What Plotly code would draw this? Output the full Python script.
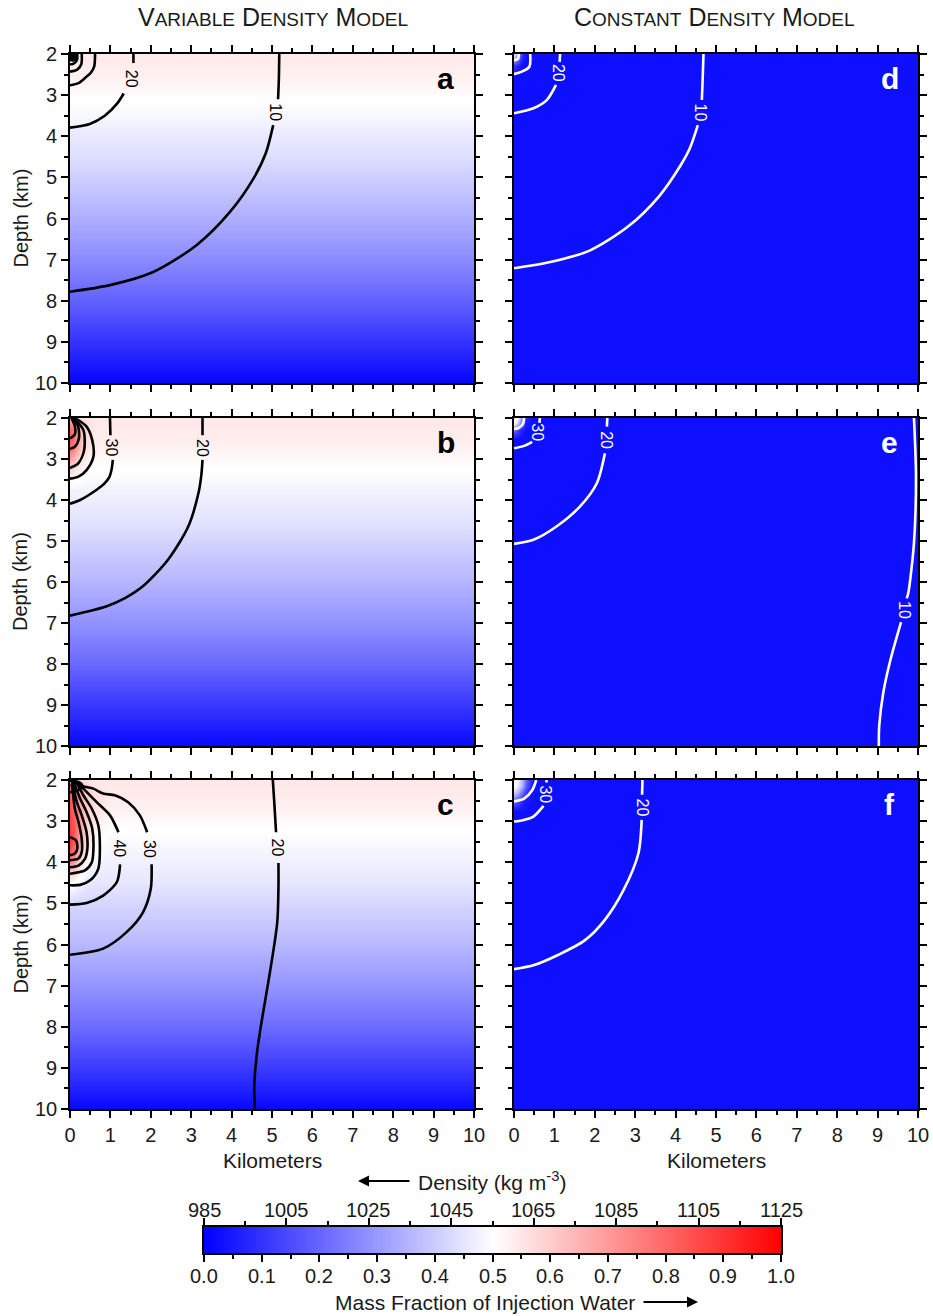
import plotly.graph_objects as go

# ---------------- data ----------------
GRID_X = [0, 0.1, 0.2, 0.3, 0.45, 0.6, 0.8, 1.0, 10]
GRID_D = [2.0, 2.15, 2.3, 2.5, 2.75, 3.0, 3.25, 3.5, 3.75, 4.0, 4.25, 4.5, 5, 6, 7, 8, 9, 10]

# background mass fraction (vertical profile, per GRID_D)
PROFILE_A = [0.54, 0.54, 0.535, 0.53, 0.52, 0.505, 0.495, 0.485, 0.47, 0.455, 0.445, 0.435, 0.405, 0.34, 0.27, 0.19, 0.10, 0.01]
PROFILE_B = [0.545, 0.545, 0.54, 0.535, 0.525, 0.51, 0.50, 0.49, 0.475, 0.465, 0.455, 0.445, 0.415, 0.355, 0.285, 0.205, 0.11, 0.015]
PROFILE_C = [0.545, 0.545, 0.54, 0.535, 0.525, 0.51, 0.50, 0.49, 0.48, 0.47, 0.46, 0.45, 0.42, 0.36, 0.29, 0.21, 0.115, 0.015]
PROFILE_R = [0.03, 0.03, 0.03, 0.03, 0.03, 0.03, 0.03, 0.03, 0.03, 0.03, 0.03, 0.03, 0.03, 0.03, 0.03, 0.03, 0.03, 0.03]

# near-injection values (rows = first GRID_D depths, cols = first GRID_X columns)
BLOB_B = [
    [0.62, 0.60, 0.58, 0.56, 0.55, 0.545, 0.54],
    [0.72, 0.70, 0.64, 0.58, 0.555, 0.545, 0.54],
    [0.80, 0.76, 0.68, 0.60, 0.56, 0.545, 0.54],
    [0.82, 0.78, 0.70, 0.61, 0.56, 0.545, 0.535],
    [0.78, 0.74, 0.66, 0.59, 0.55, 0.535, 0.525],
    [0.68, 0.64, 0.59, 0.55, 0.525, 0.515, 0.51],
    [0.58, 0.56, 0.54, 0.52, 0.505, 0.50, 0.50],
    [0.52, 0.51, 0.50, 0.495, 0.49, 0.49, 0.49],
]
BLOB_C = [
    [0.68, 0.64, 0.60, 0.57, 0.555, 0.55, 0.545],
    [0.76, 0.72, 0.66, 0.60, 0.57, 0.555, 0.55],
    [0.80, 0.76, 0.69, 0.63, 0.59, 0.565, 0.55],
    [0.83, 0.78, 0.71, 0.64, 0.59, 0.565, 0.55],
    [0.85, 0.80, 0.72, 0.65, 0.59, 0.56, 0.54],
    [0.87, 0.82, 0.73, 0.65, 0.58, 0.55, 0.525],
    [0.88, 0.83, 0.73, 0.64, 0.57, 0.53, 0.51],
    [0.88, 0.82, 0.72, 0.62, 0.55, 0.515, 0.50],
    [0.84, 0.78, 0.68, 0.59, 0.525, 0.50, 0.49],
    [0.74, 0.69, 0.61, 0.55, 0.50, 0.48, 0.475],
    [0.60, 0.58, 0.54, 0.50, 0.475, 0.465, 0.46],
    [0.51, 0.50, 0.48, 0.465, 0.455, 0.45, 0.45],
]
BLOB_D = [
    [0.45, 0.30, 0.10, 0.04],
    [0.30, 0.18, 0.06, 0.03],
    [0.10, 0.06, 0.03, 0.03],
]
BLOB_E = [
    [0.58, 0.48, 0.26, 0.08],
    [0.48, 0.36, 0.18, 0.05],
    [0.20, 0.12, 0.06, 0.03],
]
BLOB_F = [
    [0.52, 0.46, 0.36, 0.20, 0.06],
    [0.50, 0.45, 0.35, 0.18, 0.05],
    [0.42, 0.35, 0.22, 0.10, 0.04],
    [0.20, 0.15, 0.08, 0.04, 0.03],
]

# contour lines: (km, depth) points; None = break for the label
A_C10 = [(5.18, 2.0), (5.17, 2.6), (5.15, 3.1), None, (5.03, 3.73), (4.85, 4.4), (4.54, 5.03), (3.96, 5.84), (3.13, 6.65), (2.06, 7.30), (0.99, 7.62), (0.0, 7.78)]
A_C20 = [(1.57, 2.0), (1.57, 2.22), None, (1.33, 2.96), (1.17, 3.2), (0.86, 3.5), (0.49, 3.7), (0.0, 3.79)]
A_C30 = [(0.62, 2.0), (0.60, 2.3), (0.52, 2.45), (0.41, 2.55), (0.21, 2.71), (0.0, 2.76)]
A_C40 = [(0.29, 2.0), (0.28, 2.25), (0.18, 2.38), (0.0, 2.43)]
A_C50 = [(0.18, 2.0), (0.17, 2.15), (0.08, 2.24), (0.0, 2.25)]

B_C20 = [(3.28, 2.0), (3.28, 2.42), None, (3.28, 3.02), (3.25, 3.4), (3.18, 3.83), (2.93, 4.64), (2.43, 5.45), (1.81, 6.10), (1.35, 6.40), (0.91, 6.59), (0.0, 6.82)]
B_C30 = [(0.99, 2.0), (1.0, 2.42), None, (1.06, 3.02), (1.03, 3.25), (0.97, 3.45), (0.85, 3.6), (0.66, 3.75), (0.25, 4.0), (0.0, 4.09)]
B_C40 = [(0.12, 2.0), (0.41, 2.21), (0.55, 2.54), (0.58, 2.94), (0.41, 3.27), (0.21, 3.43), (0.0, 3.48)]
B_C50 = [(0.08, 2.0), (0.33, 2.29), (0.35, 2.78), (0.21, 3.10), (0.0, 3.22)]
B_C60 = [(0.05, 2.0), (0.20, 2.2), (0.22, 2.5), (0.12, 2.7), (0.0, 2.75)]
B_C70 = [(0.03, 2.0), (0.12, 2.2), (0.12, 2.4), (0.0, 2.5)]

C_C20 = [(5.02, 2.0), (5.06, 2.6), (5.10, 3.27), None, (5.16, 4.02), (5.16, 4.6), (5.13, 5.46), (4.95, 6.67), (4.74, 7.89), (4.62, 8.70), (4.56, 9.51), (4.58, 10.0)]
C_C30 = [(0.12, 2.01), (0.25, 2.13), (0.58, 2.21), (0.82, 2.33), (1.11, 2.37), (1.44, 2.54), (1.73, 2.86), (1.91, 3.27), None, (2.02, 4.05), (2.0, 4.64), (1.81, 5.21), (1.40, 5.70), (0.82, 6.10), (0.0, 6.25)]
C_C40 = [(0.10, 2.02), (0.21, 2.09), (0.41, 2.29), (0.66, 2.54), (0.99, 2.86), (1.20, 3.27), None, (1.24, 4.05), (1.16, 4.48), (0.82, 4.81), (0.41, 4.99), (0.0, 5.03)]
C_C50 = [(0.08, 2.02), (0.17, 2.09), (0.33, 2.37), (0.54, 2.70), (0.70, 3.10), (0.74, 3.67), (0.70, 4.16), (0.50, 4.44), (0.25, 4.55), (0.0, 4.56)]
C_C60 = [(0.06, 2.03), (0.12, 2.13), (0.25, 2.45), (0.41, 2.78), (0.55, 3.18), (0.58, 3.67), (0.54, 4.0), (0.37, 4.20), (0.0, 4.28)]
C_C70 = [(0.05, 2.05), (0.08, 2.17), (0.17, 2.54), (0.29, 2.86), (0.41, 3.27), (0.43, 3.67), (0.37, 3.92), (0.21, 4.08), (0.0, 4.12)]
C_C80 = [(0.04, 2.1), (0.07, 2.29), (0.12, 2.70), (0.21, 3.02), (0.29, 3.43), (0.29, 3.75), (0.21, 3.91), (0.0, 3.95)]
C_C90 = [(0.0, 3.39), (0.15, 3.47), (0.18, 3.67), (0.12, 3.79), (0.0, 3.83)]
C_C100 = [(0.0, 2.02), (0.22, 2.05), (0.30, 2.12), (0.22, 2.24), (0.0, 2.3)]

D_C10 = [(4.69, 2.0), (4.67, 2.6), (4.65, 3.12), None, (4.55, 3.73), (4.35, 4.3), (4.11, 4.73), (3.59, 5.46), (2.83, 6.19), (1.87, 6.78), (0.90, 7.06), (0.0, 7.21)]
D_C20 = [(1.14, 2.0), (1.13, 2.19), None, (1.04, 2.75), (0.81, 3.12), (0.48, 3.32), (0.0, 3.44)]
D_C30 = [(0.40, 2.0), (0.38, 2.31), (0.19, 2.43), (0.0, 2.49)]
D_C40 = [(0.12, 2.0), (0.10, 2.12), (0.0, 2.15)]

E_C10 = [(9.90, 2.0), (9.95, 3.43), (9.90, 5.05), (9.76, 6.27), (9.72, 6.40), None, (9.58, 6.98), (9.55, 7.08), (9.32, 7.89), (9.14, 8.70), (9.04, 9.51), (9.03, 10.0)]
E_C20 = [(2.31, 2.0), (2.30, 2.21), None, (2.25, 2.86), (2.05, 3.59), (1.63, 4.16), (1.06, 4.64), (0.48, 4.97), (0.0, 5.07)]
E_C30 = [(0.64, 2.0), (0.63, 2.12), None, (0.45, 2.58), (0.25, 2.68), (0.0, 2.74)]
E_C40 = [(0.25, 2.0), (0.22, 2.15), (0.10, 2.25), (0.0, 2.27)]

F_C20 = [(3.18, 2.0), (3.17, 2.36), None, (3.16, 2.97), (3.08, 3.78), (2.71, 4.68), (2.25, 5.4), (1.75, 5.9), (1.10, 6.25), (0.50, 6.5), (0.0, 6.6)]
F_C30 = [(0.81, 2.0), (0.80, 2.06), None, (0.73, 2.63), (0.48, 2.89), (0.25, 2.97), (0.0, 3.01)]
F_C40 = [(0.55, 2.0), (0.45, 2.25), (0.25, 2.45), (0.0, 2.52)]

# contour labels: (text, km, depth)
A_LABELS = [("20", 1.53, 2.60), ("10", 5.10, 3.42)]
B_LABELS = [("30", 1.03, 2.71), ("20", 3.28, 2.72)]
C_LABELS = [("40", 1.22, 3.67), ("30", 1.97, 3.67), ("20", 5.13, 3.65)]
D_LABELS = [("20", 1.10, 2.47), ("10", 4.61, 3.43)]
E_LABELS = [("30", 0.58, 2.36), ("20", 2.29, 2.53), ("10", 9.66, 6.69)]
F_LABELS = [("30", 0.78, 2.34), ("20", 3.17, 2.67)]

PANEL_LETTERS = ["a", "b", "c", "d", "e", "f"]
X_TICKS = [0, 1, 2, 3, 4, 5, 6, 7, 8, 9, 10]
Y_TICKS = [2, 3, 4, 5, 6, 7, 8, 9, 10]
DENSITY_TICKS = [985, 1005, 1025, 1045, 1065, 1085, 1105, 1125]
FRACTION_TICKS = [0.0, 0.1, 0.2, 0.3, 0.4, 0.5, 0.6, 0.7, 0.8, 0.9, 1.0]
CB_FRACTIONS = [0.0, 0.5, 1.0]

# ---------------- styling / layout ----------------
W, H = 933, 1316
FONT = "Liberation Sans, Arial, Helvetica, sans-serif"
INK = "#1a1a1a"
SCALE = [[0.0, "rgb(0,0,255)"], [0.5, "rgb(255,255,255)"], [1.0, "rgb(255,0,0)"]]

LEFT_X = (70, 474)
RIGHT_X = (514, 918)
ROWS_Y = [(54, 383), (418, 746), (780, 1109)]


def xdom(px):
    return [px[0] / W, px[1] / W]


def ydom(py):
    return [1 - py[1] / H, 1 - py[0] / H]


def field(profile, blob):
    z = []
    for i in range(len(GRID_D)):
        row = [profile[i]] * len(GRID_X)
        if i < len(blob):
            for j, v in enumerate(blob[i]):
                row[j] = v
        z.append(row)
    return z


def xy(points):
    xs, ys = [], []
    for p in points:
        if p is None:
            xs.append(None)
            ys.append(None)
        else:
            xs.append(p[0])
            ys.append(p[1])
    return xs, ys


def note(text, px, py, size=18, angle=0, **kw):
    d = dict(text=text, x=px / W, y=1 - py / H, xref="paper", yref="paper", showarrow=False,
             xanchor="center", yanchor="middle", textangle=angle,
             font=dict(size=size, family=FONT, color=INK))
    d.update(kw)
    return d


panels = [
    dict(profile=PROFILE_A, blob=[], lines=[A_C10, A_C20, A_C30, A_C40, A_C50], labels=A_LABELS, color="black", col=0, row=0),
    dict(profile=PROFILE_B, blob=BLOB_B, lines=[B_C20, B_C30, B_C40, B_C50, B_C60, B_C70], labels=B_LABELS, color="black", col=0, row=1),
    dict(profile=PROFILE_C, blob=BLOB_C, lines=[C_C20, C_C30, C_C40, C_C50, C_C60, C_C70, C_C80, C_C90, C_C100], labels=C_LABELS, color="black", col=0, row=2),
    dict(profile=PROFILE_R, blob=BLOB_D, lines=[D_C10, D_C20, D_C30, D_C40], labels=D_LABELS, color="white", col=1, row=0),
    dict(profile=PROFILE_R, blob=BLOB_E, lines=[E_C10, E_C20, E_C30, E_C40], labels=E_LABELS, color="white", col=1, row=1),
    dict(profile=PROFILE_R, blob=BLOB_F, lines=[F_C20, F_C30, F_C40], labels=F_LABELS, color="white", col=1, row=2),
]

fig = go.Figure()
layout = dict(
    width=W, height=H, margin=dict(l=0, r=0, t=0, b=0, pad=0, autoexpand=False),
    paper_bgcolor="white", plot_bgcolor="white", showlegend=False,
    font=dict(family=FONT, size=17, color=INK),
)
annotations = []

for k, p in enumerate(panels):
    n = k + 1
    xa = "x" if n == 1 else f"x{n}"
    ya = "y" if n == 1 else f"y{n}"
    fig.add_trace(go.Heatmap(
        x=GRID_X, y=GRID_D, z=field(p["profile"], p["blob"]),
        colorscale=SCALE, zmin=0, zmax=1, zsmooth="best", showscale=False,
        hoverinfo="skip", xaxis=xa, yaxis=ya))
    for ln in p["lines"]:
        xs, ys = xy(ln)
        fig.add_trace(go.Scatter(
            x=xs, y=ys, mode="lines", line=dict(color=p["color"], width=2.6, shape="spline", smoothing=0.8),
            hoverinfo="skip", xaxis=xa, yaxis=ya))
    if n == 1:
        fig.add_trace(go.Scatter(x=[0.06], y=[2.08], mode="markers", marker=dict(color="black", size=9),
                                 hoverinfo="skip", xaxis=xa, yaxis=ya))
    for txt, lx, ld in p["labels"]:
        annotations.append(dict(text=txt, x=lx, y=ld, xref=xa, yref=ya, showarrow=False, textangle=90,
                                xanchor="center", yanchor="middle",
                                font=dict(size=16, color=p["color"], family=FONT)))
    annotations.append(dict(text="<b>" + PANEL_LETTERS[k] + "</b>", x=9.3, y=2.6, xref=xa, yref=ya,
                            xanchor="center", yanchor="middle",
                            showarrow=False, font=dict(size=30, color=p["color"], family=FONT)))

    bottom = p["row"] == 2
    left = p["col"] == 0
    axkey = "xaxis" if n == 1 else f"xaxis{n}"
    aykey = "yaxis" if n == 1 else f"yaxis{n}"
    layout[axkey] = dict(
        domain=xdom(LEFT_X if left else RIGHT_X), anchor=ya, range=[0, 10],
        tickvals=X_TICKS, showticklabels=bottom, ticks="outside", ticklen=7, tickwidth=1.6,
        tickcolor="black", showline=True, linecolor="black", linewidth=1.6, mirror="ticks",
        showgrid=False, zeroline=False, tickfont=dict(size=20, color=INK), automargin=False,
        minor=dict(dtick=0.5, tick0=0, ticks="outside", ticklen=4, tickwidth=1.6, tickcolor="black", showgrid=False),
    )
    layout[aykey] = dict(
        domain=ydom(ROWS_Y[p["row"]]), anchor=xa, range=[10, 2],
        tickvals=Y_TICKS, showticklabels=left, ticks="outside", ticklen=7, tickwidth=1.6,
        tickcolor="black", showline=True, linecolor="black", linewidth=1.6, mirror="ticks",
        showgrid=False, zeroline=False, tickfont=dict(size=20, color=INK), automargin=False,
        minor=dict(dtick=0.5, tick0=2, ticks="outside", ticklen=4, tickwidth=1.6, tickcolor="black", showgrid=False),
    )

# colour bar as its own axes
fig.add_trace(go.Heatmap(x=CB_FRACTIONS, y=[0, 1], z=[CB_FRACTIONS, CB_FRACTIONS], colorscale=SCALE,
                         zmin=0, zmax=1, zsmooth="best", showscale=False, hoverinfo="skip",
                         xaxis="x7", yaxis="y7"))
fig.add_trace(go.Scatter(x=[DENSITY_TICKS[0]], y=[0.5], mode="markers", marker=dict(opacity=0),
                         hoverinfo="skip", xaxis="x8", yaxis="y7"))
CB_X = (204, 781)
CB_Y = (1227, 1253)
layout["xaxis7"] = dict(
    domain=xdom(CB_X), anchor="y7", range=[0, 1], tickvals=FRACTION_TICKS, showticklabels=False,
    ticks="outside", ticklen=7, tickwidth=1.6, tickcolor="black", showline=True, linecolor="black",
    linewidth=1.6, showgrid=False, zeroline=False, automargin=False,
    minor=dict(dtick=0.05, tick0=0, ticks="outside", ticklen=4, tickwidth=1.6, tickcolor="black", showgrid=False),
)
layout["xaxis8"] = dict(
    overlaying="x7", side="top", anchor="y7", range=[985, 1125], tickvals=DENSITY_TICKS, showticklabels=False,
    ticks="outside", ticklen=7, tickwidth=1.6, tickcolor="black", showline=True, linecolor="black",
    linewidth=1.6, showgrid=False, zeroline=False, automargin=False,
    minor=dict(dtick=10, tick0=985, ticks="outside", ticklen=4, tickwidth=1.6, tickcolor="black", showgrid=False),
)
layout["yaxis7"] = dict(
    domain=ydom(CB_Y), anchor="x7", range=[0, 1], showticklabels=False, ticks="",
    showline=True, linecolor="black", linewidth=1.6, mirror=True, showgrid=False, zeroline=False,
)
for v in DENSITY_TICKS:
    annotations.append(dict(text=str(v), x=v, y=1 - 1210 / H, xref="x8", yref="paper", showarrow=False,
                            xanchor="center", yanchor="middle", font=dict(size=20, family=FONT, color=INK)))
for v in FRACTION_TICKS:
    annotations.append(dict(text=f"{v:.1f}", x=v, y=1 - 1276 / H, xref="x7", yref="paper", showarrow=False,
                            xanchor="center", yanchor="middle", font=dict(size=20, family=FONT, color=INK)))

# titles and labels
SC = "<span style='font-size:19px'>{}</span>"
title_l = "V" + SC.format("ARIABLE") + " D" + SC.format("ENSITY") + " M" + SC.format("ODEL")
title_r = "C" + SC.format("ONSTANT") + " D" + SC.format("ENSITY") + " M" + SC.format("ODEL")
annotations.append(note(title_l, 273, 17, size=25))
annotations.append(note(title_r, 714, 17, size=25))
for (t, b) in ROWS_Y:
    annotations.append(note("Depth (km)", 20, (t + b) / 2, size=20, angle=-90))
for cx in (272, 716):
    annotations.append(note("Kilometers", cx, 1160, size=21))
# labels with their arrows (arrow from the text towards the head)
annotations.append(dict(text="Density (kg m<sup>-3</sup>)", x=358 / W, y=1 - 1181 / H, xref="paper", yref="paper",
                        showarrow=True, ax=134, ay=0, axref="pixel", ayref="pixel",
                        arrowhead=2, arrowsize=1, arrowwidth=2.2, arrowcolor="black", startstandoff=7,
                        font=dict(size=21, family=FONT, color=INK)))
annotations.append(dict(text="Mass Fraction of Injection Water", x=698 / W, y=1 - 1302 / H, xref="paper",
                        yref="paper", showarrow=True, ax=-213, ay=0, arrowhead=2, arrowsize=1, arrowwidth=2.2,
                        arrowcolor="black", startstandoff=7, font=dict(size=21, family=FONT, color=INK)))

layout["annotations"] = annotations
fig.update_layout(**layout)
fig.write_html("out.html")
